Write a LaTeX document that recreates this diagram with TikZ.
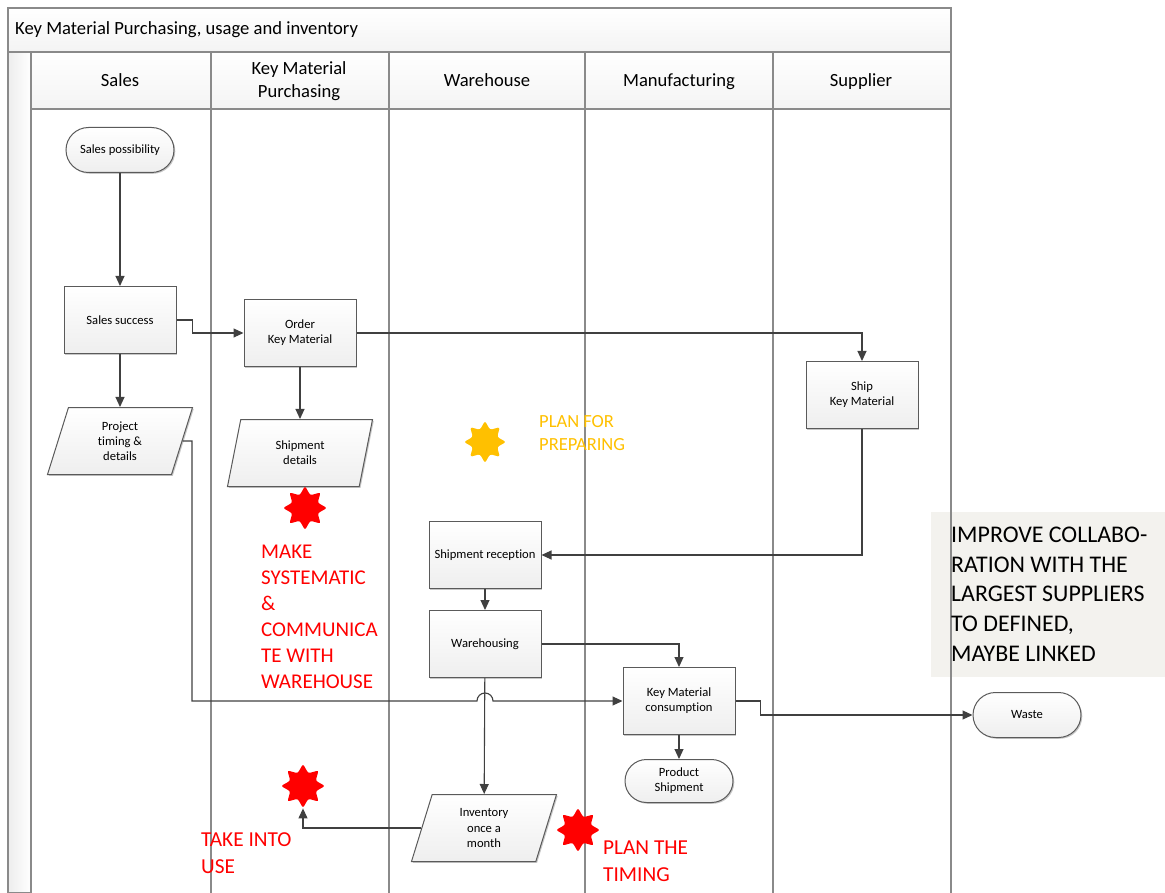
\documentclass[tikz,border=0pt]{standalone}
\usepackage{fontspec}
\setmainfont{Carlito}[Ligatures=CommonOff]
\usetikzlibrary{shapes.geometric,shapes.misc,arrows.meta,shadows}
\definecolor{frameline}{HTML}{8A8A8A}
\definecolor{boxline}{HTML}{5A5A5A}
\definecolor{wire}{HTML}{404040}
\definecolor{alertred}{HTML}{FF0000}
\definecolor{planyellow}{HTML}{FFC000}
\definecolor{notefill}{HTML}{F3F2EE}
\newcommand{\nodefont}{\fontsize{12.6}{15.2}\selectfont}
\newcommand{\headfont}{\fontsize{18.6}{23}\selectfont}
\begin{document}
\begin{tikzpicture}[x=1pt,y=-1pt,
  shade/.style={drop shadow={shadow xshift=1.3pt,shadow yshift=-1.3pt,fill=black,opacity=0.22}},
  proc/.style={draw=boxline,line width=1pt,top color=white,bottom color=gray!13,
    minimum width=112,minimum height=67,inner sep=2,align=center,font=\nodefont,shade},
  term/.style={rounded rectangle,draw=boxline,line width=1pt,top color=white,bottom color=gray!13,
    minimum width=112,minimum height=45,inner sep=2,align=center,font=\nodefont,shade},
  data/.style={trapezium,trapezium left angle=63,trapezium right angle=117,trapezium stretches body,
    draw=boxline,line width=1pt,top color=white,bottom color=gray!13,
    minimum width=145,minimum height=67,inner sep=1,align=center,font=\nodefont,shade},
  burst/.style={star,star points=8,star point ratio=1.6,minimum size=44,inner sep=0,rounded corners=2.2,draw=none},
  conn/.style={draw=wire,line width=1.1,-{Triangle[length=10pt,width=9pt]}},
  lanehead/.style={draw=frameline,line width=1.2,top color=white,bottom color=gray!9},
  headtext/.style={font=\headfont,text height=13,text depth=4,align=center},
  remark/.style={anchor=north west,inner sep=0,align=left},
]
\useasboundingbox (0,0) rectangle (1165,893);

% note panel behind the lane frame
\fill[notefill] (931,512) rectangle (1165,677);

% pool title bar
\draw[lanehead] (8,8) rectangle (951,52);
\node[anchor=west,inner sep=0,font=\headfont,text height=13,text depth=4] (title) at (15,30.5) {Key Material Purchasing, usage and inventory};

% left pool bar
\draw[draw=frameline,line width=1.2,left color=gray!14,right color=white] (8,52) rectangle (31,893);

% lane headers
\draw[lanehead] (31,52) rectangle (211,109);
\draw[lanehead] (211,52) rectangle (389,109);
\draw[lanehead] (389,52) rectangle (585,109);
\draw[lanehead] (585,52) rectangle (773,109);
\draw[lanehead] (773,52) rectangle (951,109);
\node[headtext] (hsales) at (120,82) {Sales};
\node[font=\headfont,align=center] (hkmp) at (299,81) {Key Material\\Purchasing};
\node[headtext] (hwh) at (487,82) {Warehouse};
\node[headtext] (hman) at (679,82) {Manufacturing};
\node[headtext] (hsup) at (861,82) {Supplier};

% lane separators
\foreach \lx in {31,211,389,585,773,951}
  \draw[frameline,line width=1.2] (\lx,109) -- (\lx,893);

% flow nodes
\node[term] (sp) at (120,150) {Sales possibility};
\node[proc] (ss) at (120,320) {Sales success};
\node[data] (pt) at (120,441) {Project\\timing \&\\details};
\node[proc] (okm) at (300,333) {Order\\Key Material};
\node[data] (sd) at (300,453) {Shipment\\details};
\node[proc] (ship) at (862,395) {Ship\\Key Material};
\node[proc] (sr) at (485,555) {Shipment reception};
\node[proc] (wh) at (485,644) {Warehousing};
\node[proc] (kmc) at (679,701) {Key Material\\consumption};
\node[term,minimum height=43] (ps) at (679,781) {Product\\Shipment};
\node[data] (inv) at (484,828) {Inventory\\once a\\month};
\node[term] (waste) at (1027,715) {Waste};

% markers
\node[burst,fill=planyellow,minimum size=42] (ys) at (485,442) {};
\node[burst,fill=alertred] (r1) at (305,508) {};
\node[burst,fill=alertred] (r2) at (303,786) {};
\node[burst,fill=alertred] (r3) at (578,830) {};

% connectors
\draw[conn] (sp) -- (ss);
\draw[conn] (ss) -- (pt);
\draw[conn] (ss.east) -- ++(16,0) |- (okm.west);
\draw[conn] (okm) -- (sd);
\draw[conn] (okm.east) -| (ship.north);
\draw[conn] (ship.south) |- (sr.east);
\draw[conn] (sr) -- (wh);
\draw[conn] (wh.east) -| (kmc.north);
\draw[conn] (wh) -- (inv);
\draw[conn] (kmc) -- (ps);
\draw[conn] (kmc.east) -- ++(25,0) |- (waste.west);
\coordinate (hopL) at (477,701);
\draw[conn] (pt.east) -| (192,701) -- (hopL) arc[start angle=180,end angle=360,radius=8] -- (kmc.west);
\draw[conn] (inv.west) -| (r2.south);

% remarks
\node[remark,text=planyellow,font=\fontsize{18.5}{23.5}\selectfont] (tplan) at (539,415) {PLAN FOR\\PREPARING};
\node[remark,text=alertred,font=\fontsize{21}{25.9}\selectfont] (tmake) at (261,545) {MAKE\\SYSTEMATIC\\\&\\COMMUNICA\\TE WITH\\WAREHOUSE};
\node[remark,text=alertred,font=\fontsize{21.3}{27}\selectfont] (ttake) at (201,832) {TAKE INTO\\USE};
\node[remark,text=alertred,font=\fontsize{21.3}{27}\selectfont] (ttime) at (603,841) {PLAN THE\\TIMING};
\node[remark,text=black,font=\fontsize{23.9}{29.6}\selectfont] (tnote) at (951,527) {IMPROVE COLLABO-\\RATION WITH THE\\LARGEST SUPPLIERS\\TO DEFINED,\\MAYBE LINKED};
\end{tikzpicture}
\end{document}
